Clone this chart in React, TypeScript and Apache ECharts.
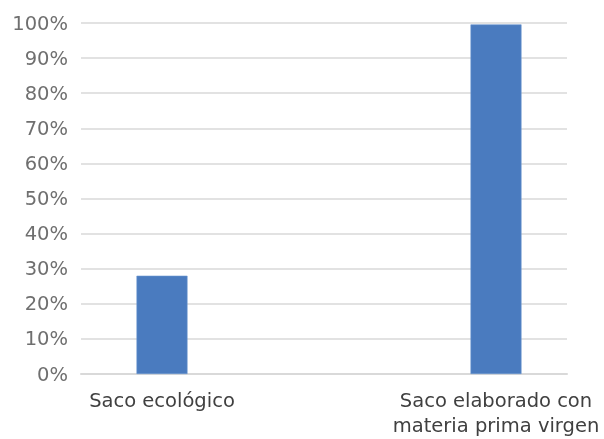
import React, { useEffect, useRef } from "react";
import * as echarts from "echarts";

const categories = ["Saco ecológico", "Saco elaborado con\nmateria prima virgen"];
const values = [28, 99.6];
const yTicks = { min: 0, max: 100, interval: 10 };

export default function App() {
  const ref = useRef<HTMLDivElement>(null);
  useEffect(() => {
    if (!ref.current) return;
    const chart = echarts.init(ref.current, undefined, { renderer: "svg" });
    const font = "'DejaVu Sans', sans-serif";
    chart.setOption({
      animation: false,
      grid: [
        { left: 81, right: 37, top: 23, bottom: 65, outerBoundsMode: "none", containLabel: false },
        { left: -5, right: -59, top: 23, bottom: 65, outerBoundsMode: "none", containLabel: false },
      ],
      xAxis: [
        {
          gridIndex: 0,
          type: "category",
          data: categories,
          axisLabel: { show: false },
          axisTick: { show: false },
          axisLine: { show: true, lineStyle: { color: "#d9d9d9", width: 2 } },
        },
        {
          gridIndex: 1,
          type: "category",
          data: categories,
          axisTick: { show: false },
          axisLine: { show: false },
          axisLabel: {
            color: "#404040",
            fontFamily: font,
            fontSize: 19.5,
            lineHeight: 25,
            margin: 14,
            interval: 0,
          },
        },
      ],
      yAxis: [
        {
          gridIndex: 0,
          type: "value",
          min: yTicks.min,
          max: yTicks.max,
          interval: yTicks.interval,
          axisLabel: {
            formatter: "{value}%",
            color: "#6f6f6f",
            fontFamily: font,
            fontSize: 19.5,
            margin: 13,
          },
          axisLine: { show: false },
          axisTick: { show: false },
          splitLine: { lineStyle: { color: "#d9d9d9", width: 1.6 } },
        },
        {
          gridIndex: 1,
          type: "value",
          min: yTicks.min,
          max: yTicks.max,
          show: false,
        },
      ],
      series: [
        {
          type: "bar",
          xAxisIndex: 1,
          yAxisIndex: 1,
          data: values,
          barWidth: 51,
          itemStyle: { color: "#4a7bbf", borderColor: "#6a95d0", borderWidth: 0.6 },
        },
      ],
    });
    return () => chart.dispose();
  }, []);
  return (
    <div
      ref={ref}
      style={{ position: "fixed", left: 0, top: 0, width: 604, height: 439 }}
    />
  );
}
